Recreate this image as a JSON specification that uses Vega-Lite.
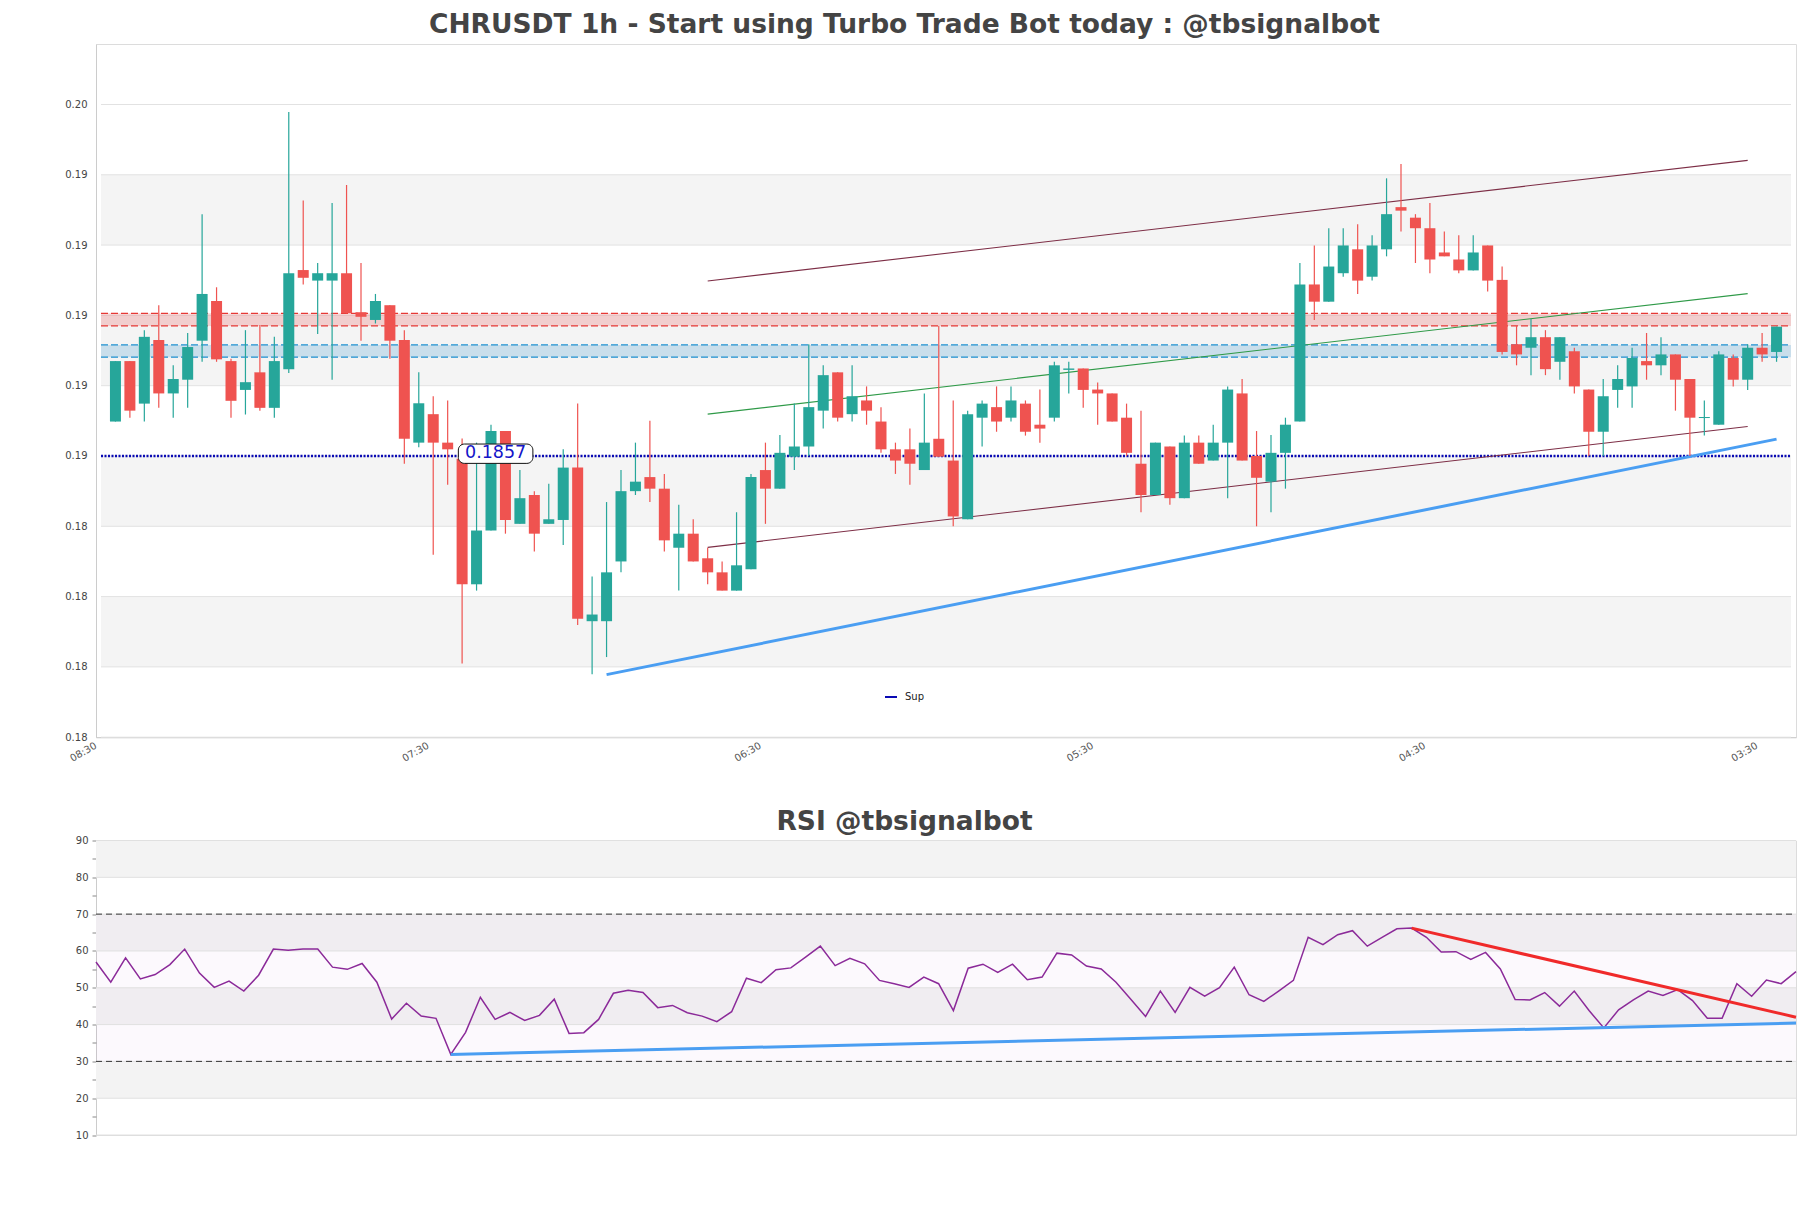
{
"$schema": "https://vega.github.io/schema/vega-lite/v6.json",
"padding": {"left": 64, "top": 11, "right": 14, "bottom": 74},
"background": "white",
"bounds": "flush",
"spacing": 102.5,
"config": {
  "font": "DejaVu Sans",
  "view": {"stroke": "#dcdcdc"},
  "axis": {"labelFont": "DejaVu Sans", "labelFontSize": 10, "labelColor": "#444444", "domainColor": "#cccccc", "tickColor": "#999999", "grid": false, "title": null}
},
"datasets": {
  "candles": [
{"i":0,"o":0.18668,"h":0.18840,"l":0.18668,"c":0.18840},
{"i":1,"o":0.18840,"h":0.18840,"l":0.18679,"c":0.18699},
{"i":2,"o":0.18719,"h":0.18928,"l":0.18668,"c":0.18909},
{"i":3,"o":0.18900,"h":0.18999,"l":0.18707,"c":0.18748},
{"i":4,"o":0.18748,"h":0.18828,"l":0.18679,"c":0.18789},
{"i":5,"o":0.18787,"h":0.18920,"l":0.18707,"c":0.18880},
{"i":6,"o":0.18898,"h":0.19258,"l":0.18838,"c":0.19031},
{"i":7,"o":0.19011,"h":0.19050,"l":0.18838,"c":0.18845},
{"i":8,"o":0.18840,"h":0.18847,"l":0.18679,"c":0.18727},
{"i":9,"o":0.18758,"h":0.18928,"l":0.18688,"c":0.18780},
{"i":10,"o":0.18808,"h":0.18943,"l":0.18699,"c":0.18707},
{"i":11,"o":0.18707,"h":0.18909,"l":0.18679,"c":0.18840},
{"i":12,"o":0.18817,"h":0.19549,"l":0.18806,"c":0.19090},
{"i":13,"o":0.19099,"h":0.19297,"l":0.19058,"c":0.19077},
{"i":14,"o":0.19069,"h":0.19119,"l":0.18917,"c":0.19090},
{"i":15,"o":0.19069,"h":0.19290,"l":0.18787,"c":0.19090},
{"i":16,"o":0.19090,"h":0.19341,"l":0.18976,"c":0.18976},
{"i":17,"o":0.18979,"h":0.19119,"l":0.18898,"c":0.18966},
{"i":18,"o":0.18957,"h":0.19031,"l":0.18947,"c":0.19011},
{"i":19,"o":0.18999,"h":0.18999,"l":0.18847,"c":0.18898},
{"i":20,"o":0.18900,"h":0.18928,"l":0.18548,"c":0.18619},
{"i":21,"o":0.18608,"h":0.18808,"l":0.18595,"c":0.18720},
{"i":22,"o":0.18689,"h":0.18740,"l":0.18289,"c":0.18608},
{"i":23,"o":0.18608,"h":0.18728,"l":0.18488,"c":0.18589},
{"i":24,"o":0.18562,"h":0.18620,"l":0.17980,"c":0.18205},
{"i":25,"o":0.18205,"h":0.18608,"l":0.18187,"c":0.18358},
{"i":26,"o":0.18358,"h":0.18659,"l":0.18358,"c":0.18641},
{"i":27,"o":0.18641,"h":0.18641,"l":0.18349,"c":0.18388},
{"i":28,"o":0.18377,"h":0.18530,"l":0.18377,"c":0.18450},
{"i":29,"o":0.18459,"h":0.18470,"l":0.18298,"c":0.18349},
{"i":30,"o":0.18377,"h":0.18491,"l":0.18377,"c":0.18390},
{"i":31,"o":0.18388,"h":0.18589,"l":0.18317,"c":0.18537},
{"i":32,"o":0.18537,"h":0.18719,"l":0.18089,"c":0.18107},
{"i":33,"o":0.18100,"h":0.18227,"l":0.17949,"c":0.18119},
{"i":34,"o":0.18100,"h":0.18439,"l":0.17998,"c":0.18239},
{"i":35,"o":0.18270,"h":0.18530,"l":0.18239,"c":0.18470},
{"i":36,"o":0.18470,"h":0.18608,"l":0.18459,"c":0.18497},
{"i":37,"o":0.18510,"h":0.18670,"l":0.18439,"c":0.18477},
{"i":38,"o":0.18477,"h":0.18519,"l":0.18298,"c":0.18330},
{"i":39,"o":0.18309,"h":0.18431,"l":0.18187,"c":0.18349},
{"i":40,"o":0.18349,"h":0.18390,"l":0.18270,"c":0.18270},
{"i":41,"o":0.18279,"h":0.18309,"l":0.18205,"c":0.18239},
{"i":42,"o":0.18239,"h":0.18270,"l":0.18187,"c":0.18187},
{"i":43,"o":0.18187,"h":0.18410,"l":0.18187,"c":0.18259},
{"i":44,"o":0.18248,"h":0.18519,"l":0.18248,"c":0.18510},
{"i":45,"o":0.18530,"h":0.18608,"l":0.18377,"c":0.18477},
{"i":46,"o":0.18477,"h":0.18630,"l":0.18477,"c":0.18579},
{"i":47,"o":0.18568,"h":0.18719,"l":0.18530,"c":0.18597},
{"i":48,"o":0.18597,"h":0.18888,"l":0.18570,"c":0.18709},
{"i":49,"o":0.18699,"h":0.18828,"l":0.18648,"c":0.18800},
{"i":50,"o":0.18808,"h":0.18808,"l":0.18668,"c":0.18679},
{"i":51,"o":0.18689,"h":0.18828,"l":0.18668,"c":0.18740},
{"i":52,"o":0.18728,"h":0.18768,"l":0.18659,"c":0.18699},
{"i":53,"o":0.18668,"h":0.18709,"l":0.18579,"c":0.18589},
{"i":54,"o":0.18589,"h":0.18608,"l":0.18519,"c":0.18557},
{"i":55,"o":0.18589,"h":0.18648,"l":0.18488,"c":0.18548},
{"i":56,"o":0.18530,"h":0.18748,"l":0.18530,"c":0.18608},
{"i":57,"o":0.18619,"h":0.18940,"l":0.18568,"c":0.18568},
{"i":58,"o":0.18557,"h":0.18728,"l":0.18370,"c":0.18398},
{"i":59,"o":0.18390,"h":0.18699,"l":0.18390,"c":0.18689},
{"i":60,"o":0.18679,"h":0.18728,"l":0.18597,"c":0.18719},
{"i":61,"o":0.18709,"h":0.18768,"l":0.18639,"c":0.18668},
{"i":62,"o":0.18679,"h":0.18768,"l":0.18668,"c":0.18728},
{"i":63,"o":0.18719,"h":0.18728,"l":0.18628,"c":0.18639},
{"i":64,"o":0.18659,"h":0.18759,"l":0.18608,"c":0.18648},
{"i":65,"o":0.18679,"h":0.18838,"l":0.18668,"c":0.18828},
{"i":66,"o":0.18815,"h":0.18838,"l":0.18748,"c":0.18819},
{"i":67,"o":0.18819,"h":0.18819,"l":0.18707,"c":0.18758},
{"i":68,"o":0.18759,"h":0.18779,"l":0.18659,"c":0.18748},
{"i":69,"o":0.18748,"h":0.18748,"l":0.18668,"c":0.18668},
{"i":70,"o":0.18679,"h":0.18719,"l":0.18570,"c":0.18579},
{"i":71,"o":0.18548,"h":0.18699,"l":0.18410,"c":0.18459},
{"i":72,"o":0.18459,"h":0.18608,"l":0.18459,"c":0.18608},
{"i":73,"o":0.18597,"h":0.18597,"l":0.18431,"c":0.18450},
{"i":74,"o":0.18450,"h":0.18628,"l":0.18450,"c":0.18608},
{"i":75,"o":0.18608,"h":0.18628,"l":0.18548,"c":0.18548},
{"i":76,"o":0.18557,"h":0.18659,"l":0.18557,"c":0.18608},
{"i":77,"o":0.18608,"h":0.18768,"l":0.18450,"c":0.18759},
{"i":78,"o":0.18748,"h":0.18789,"l":0.18557,"c":0.18557},
{"i":79,"o":0.18570,"h":0.18641,"l":0.18370,"c":0.18508},
{"i":80,"o":0.18497,"h":0.18630,"l":0.18410,"c":0.18579},
{"i":81,"o":0.18579,"h":0.18679,"l":0.18477,"c":0.18659},
{"i":82,"o":0.18668,"h":0.19119,"l":0.18668,"c":0.19058},
{"i":83,"o":0.19058,"h":0.19169,"l":0.18957,"c":0.19009},
{"i":84,"o":0.19009,"h":0.19218,"l":0.19009,"c":0.19109},
{"i":85,"o":0.19090,"h":0.19218,"l":0.19080,"c":0.19169},
{"i":86,"o":0.19158,"h":0.19229,"l":0.19031,"c":0.19069},
{"i":87,"o":0.19080,"h":0.19198,"l":0.19069,"c":0.19169},
{"i":88,"o":0.19158,"h":0.19360,"l":0.19138,"c":0.19258},
{"i":89,"o":0.19278,"h":0.19401,"l":0.19209,"c":0.19268},
{"i":90,"o":0.19248,"h":0.19258,"l":0.19119,"c":0.19218},
{"i":91,"o":0.19218,"h":0.19290,"l":0.19090,"c":0.19129},
{"i":92,"o":0.19149,"h":0.19209,"l":0.19138,"c":0.19138},
{"i":93,"o":0.19129,"h":0.19198,"l":0.19090,"c":0.19098},
{"i":94,"o":0.19098,"h":0.19198,"l":0.19098,"c":0.19149},
{"i":95,"o":0.19169,"h":0.19169,"l":0.19038,"c":0.19069},
{"i":96,"o":0.19071,"h":0.19109,"l":0.18859,"c":0.18866},
{"i":97,"o":0.18888,"h":0.18940,"l":0.18828,"c":0.18859},
{"i":98,"o":0.18878,"h":0.18960,"l":0.18800,"c":0.18908},
{"i":99,"o":0.18908,"h":0.18928,"l":0.18800,"c":0.18817},
{"i":100,"o":0.18838,"h":0.18908,"l":0.18787,"c":0.18908},
{"i":101,"o":0.18868,"h":0.18878,"l":0.18748,"c":0.18768},
{"i":102,"o":0.18759,"h":0.18759,"l":0.18570,"c":0.18639},
{"i":103,"o":0.18639,"h":0.18789,"l":0.18570,"c":0.18740},
{"i":104,"o":0.18758,"h":0.18828,"l":0.18707,"c":0.18789},
{"i":105,"o":0.18768,"h":0.18878,"l":0.18707,"c":0.18849},
{"i":106,"o":0.18840,"h":0.18920,"l":0.18787,"c":0.18828},
{"i":107,"o":0.18828,"h":0.18908,"l":0.18800,"c":0.18859},
{"i":108,"o":0.18859,"h":0.18859,"l":0.18699,"c":0.18787},
{"i":109,"o":0.18789,"h":0.18789,"l":0.18570,"c":0.18679},
{"i":110,"o":0.18678,"h":0.18728,"l":0.18628,"c":0.18681},
{"i":111,"o":0.18659,"h":0.18868,"l":0.18659,"c":0.18859},
{"i":112,"o":0.18849,"h":0.18859,"l":0.18768,"c":0.18787},
{"i":113,"o":0.18787,"h":0.18888,"l":0.18758,"c":0.18878},
{"i":114,"o":0.18878,"h":0.18920,"l":0.18838,"c":0.18859},
{"i":115,"o":0.18866,"h":0.18938,"l":0.18838,"c":0.18938}
  ],
  "rsi": [
{"i":0,"v":57.0},{"i":1,"v":51.5},{"i":2,"v":58.1},{"i":3,"v":52.4},{"i":4,"v":53.6},{"i":5,"v":56.3},{"i":6,"v":60.5},{"i":7,"v":54.0},{"i":8,"v":50.1},{"i":9,"v":51.8},
{"i":10,"v":49.1},{"i":11,"v":53.4},{"i":12,"v":60.5},{"i":13,"v":60.2},{"i":14,"v":60.5},{"i":15,"v":60.5},{"i":16,"v":55.6},{"i":17,"v":55.0},{"i":18,"v":56.6},{"i":19,"v":51.5},
{"i":20,"v":41.5},{"i":21,"v":45.8},{"i":22,"v":42.3},{"i":23,"v":41.7},{"i":24,"v":31.9},{"i":25,"v":37.9},{"i":26,"v":47.4},{"i":27,"v":41.4},{"i":28,"v":43.3},{"i":29,"v":41.1},
{"i":30,"v":42.5},{"i":31,"v":46.9},{"i":32,"v":37.6},{"i":33,"v":37.8},{"i":34,"v":41.4},{"i":35,"v":48.5},{"i":36,"v":49.3},{"i":37,"v":48.7},{"i":38,"v":44.6},{"i":39,"v":45.2},
{"i":40,"v":43.2},{"i":41,"v":42.3},{"i":42,"v":40.8},{"i":43,"v":43.5},{"i":44,"v":52.6},{"i":45,"v":51.4},{"i":46,"v":54.9},{"i":47,"v":55.4},{"i":48,"v":58.3},{"i":49,"v":61.3},
{"i":50,"v":56.0},{"i":51,"v":58.0},{"i":52,"v":56.5},{"i":53,"v":52.0},{"i":54,"v":51.1},{"i":55,"v":50.1},{"i":56,"v":52.9},{"i":57,"v":51.1},{"i":58,"v":43.8},{"i":59,"v":55.3},
{"i":60,"v":56.4},{"i":61,"v":54.2},{"i":62,"v":56.4},{"i":63,"v":52.2},{"i":64,"v":52.9},{"i":65,"v":59.4},{"i":66,"v":58.9},{"i":67,"v":55.9},{"i":68,"v":55.1},{"i":69,"v":51.5},
{"i":70,"v":46.9},{"i":71,"v":42.2},{"i":72,"v":49.1},{"i":73,"v":43.3},{"i":74,"v":50.1},{"i":75,"v":47.7},{"i":76,"v":50.0},{"i":77,"v":55.6},{"i":78,"v":48.1},{"i":79,"v":46.3},
{"i":80,"v":49.1},{"i":81,"v":52.0},{"i":82,"v":63.7},{"i":83,"v":61.7},{"i":84,"v":64.4},{"i":85,"v":65.5},{"i":86,"v":61.3},{"i":87,"v":63.7},{"i":88,"v":66.0},{"i":89,"v":66.2},
{"i":90,"v":63.7},{"i":91,"v":59.7},{"i":92,"v":59.8},{"i":93,"v":57.7},{"i":94,"v":59.6},{"i":95,"v":55.1},{"i":96,"v":46.8},{"i":97,"v":46.7},{"i":98,"v":48.7},{"i":99,"v":45.0},
{"i":100,"v":49.1},{"i":101,"v":43.8},{"i":102,"v":39.1},{"i":103,"v":44.0},{"i":104,"v":46.7},{"i":105,"v":49.1},{"i":106,"v":47.9},{"i":107,"v":49.5},{"i":108,"v":46.5},{"i":109,"v":41.7},
{"i":110,"v":41.7},{"i":111,"v":51.1},{"i":112,"v":47.7},{"i":113,"v":52.1},{"i":114,"v":51.1},{"i":115,"v":54.4}
  ],
  "priceBands": [{"lo":0.1797,"hi":0.1817},{"lo":0.1837,"hi":0.1857},{"lo":0.1877,"hi":0.1897},{"lo":0.1917,"hi":0.1937}],
  "priceTicks": [{"v":0.1777},{"v":0.1797},{"v":0.1817},{"v":0.1837},{"v":0.1857},{"v":0.1877},{"v":0.1897},{"v":0.1917},{"v":0.1937},{"v":0.1957}],
  "zones": [{"zone":"res","lo":0.18940,"hi":0.18976},{"zone":"sup","lo":0.18851,"hi":0.18886}],
  "zoneEdges": [{"zone":"res","v":0.18940},{"zone":"res","v":0.18976},{"zone":"sup","v":0.18851},{"zone":"sup","v":0.18886}],
  "supLevel": [{"name":"Sup","v":0.1857}],
  "channel": [{"line":"upper","i":41,"p":0.19068},{"line":"upper","i":113,"p":0.19411},{"line":"lower","i":41,"p":0.18310},{"line":"lower","i":113,"p":0.18654}],
  "mid": [{"i":41,"p":0.18689},{"i":113,"p":0.19032}],
  "support": [{"i":34,"p":0.17948},{"i":115,"p":0.18618}],
  "rsiBands": [{"lo":20,"hi":30},{"lo":40,"hi":50},{"lo":60,"hi":70},{"lo":80,"hi":90}],
  "rsiZone": [{"lo":30,"hi":70}],
  "rsiGrid": [{"v":10},{"v":20},{"v":30},{"v":40},{"v":50},{"v":60},{"v":70},{"v":80},{"v":90}],
  "rsiLevels": [{"v":30},{"v":70}],
  "rsiSupport": [{"i":24,"v":31.9},{"i":115,"v":40.4}],
  "rsiResist": [{"i":89,"v":66.2},{"i":115,"v":42.0}]
},
"vconcat": [
{
  "width": 1700, "height": 693.2,
  "title": {"text": "CHRUSDT 1h - Start using Turbo Trade Bot today : @tbsignalbot", "font": "DejaVu Sans", "fontSize": 26.5, "fontWeight": "bold", "color": "#444444", "anchor": "middle", "dx": -41.5, "offset": -15.9, "baseline": "alphabetic"},
  "layer": [
    {"data": {"name": "priceBands"}, "mark": {"type": "rect", "color": "#f4f4f4"},
     "encoding": {
       "x": {"datum": -1, "type": "quantitative", "scale": {"domain": [-1, 116], "nice": false, "zero": false},
             "axis": {"values": [-1, 22, 45, 68, 91, 114], "labelExpr": "datum.value == -1 ? '08:30' : datum.value == 22 ? '07:30' : datum.value == 45 ? '06:30' : datum.value == 68 ? '05:30' : datum.value == 91 ? '04:30' : '03:30'", "labelAngle": -30, "labelAlign": "right", "labelBaseline": "top", "labelOffset": -8, "ticks": false, "labelPadding": 3, "labelFlush": false, "labelOverlap": false, "labelBound": false, "labelColor": "#555555"}},
       "x2": {"datum": 116},
       "y": {"field": "lo", "type": "quantitative", "scale": {"domain": [0.1777, 0.197421], "nice": false, "zero": false},
             "axis": {"values": [0.1777, 0.1797, 0.1817, 0.1837, 0.1857, 0.1877, 0.1897, 0.1917, 0.1937, 0.1957], "format": ".2f", "ticks": false, "labelPadding": 9, "labelOverlap": false}},
       "y2": {"field": "hi"}
     }},
    {"data": {"name": "priceTicks"}, "mark": {"type": "rule", "color": "#e2e2e2", "strokeWidth": 1},
     "encoding": {
       "x": {"datum": -1, "type": "quantitative", "scale": {"domain": [-1, 116], "nice": false, "zero": false}},
       "x2": {"datum": 116},
       "y": {"field": "v", "type": "quantitative", "scale": {"domain": [0.1777, 0.197421], "nice": false, "zero": false}}
     }},
    {"data": {"name": "zones"}, "mark": {"type": "rect", "fillOpacity": 0.2},
     "encoding": {
       "x": {"datum": -1, "type": "quantitative", "scale": {"domain": [-1, 116], "nice": false, "zero": false}},
       "x2": {"datum": 116},
       "y": {"field": "lo", "type": "quantitative", "scale": {"domain": [0.1777, 0.197421], "nice": false, "zero": false}},
       "y2": {"field": "hi"},
       "fill": {"condition": {"test": "datum.zone == 'res'", "value": "#e53935"}, "value": "#1e88c8"}
     }},
    {"data": {"name": "zoneEdges"}, "mark": {"type": "rule", "strokeWidth": 1.3, "strokeDash": [7, 3]},
     "encoding": {
       "x": {"datum": -1, "type": "quantitative", "scale": {"domain": [-1, 116], "nice": false, "zero": false}},
       "x2": {"datum": 116},
       "y": {"field": "v", "type": "quantitative", "scale": {"domain": [0.1777, 0.197421], "nice": false, "zero": false}},
       "color": {"condition": {"test": "datum.zone == 'res'", "value": "#e53935"}, "value": "#1e90d0"}
     }},
    {"data": {"name": "supLevel"}, "mark": {"type": "rule", "strokeWidth": 2.5, "strokeDash": [2, 1.5]},
     "encoding": {
       "x": {"datum": -1, "type": "quantitative", "scale": {"domain": [-1, 116], "nice": false, "zero": false}},
       "x2": {"datum": 116},
       "y": {"field": "v", "type": "quantitative", "scale": {"domain": [0.1777, 0.197421], "nice": false, "zero": false}},
       "color": {"field": "name", "type": "nominal", "scale": {"domain": ["Sup"], "range": ["#0a0ab4"]},
                 "legend": {"orient": "none", "legendX": 788, "legendY": 646, "title": null, "symbolType": "stroke", "symbolStrokeWidth": 2, "symbolSize": 144, "symbolDash": [1, 0], "labelFontSize": 10, "labelFont": "DejaVu Sans", "labelColor": "#222222", "labelOffset": 7, "padding": 0}}
     }},
    {"data": {"name": "channel"}, "mark": {"type": "line", "color": "#7d2e46", "strokeWidth": 1.1},
     "encoding": {
       "x": {"field": "i", "type": "quantitative", "scale": {"domain": [-1, 116], "nice": false, "zero": false}},
       "y": {"field": "p", "type": "quantitative", "scale": {"domain": [0.1777, 0.197421], "nice": false, "zero": false}},
       "detail": {"field": "line"}
     }},
    {"data": {"name": "mid"}, "mark": {"type": "line", "color": "#2f9a48", "strokeWidth": 1.1},
     "encoding": {
       "x": {"field": "i", "type": "quantitative", "scale": {"domain": [-1, 116], "nice": false, "zero": false}},
       "y": {"field": "p", "type": "quantitative", "scale": {"domain": [0.1777, 0.197421], "nice": false, "zero": false}}
     }},
    {"data": {"name": "support"}, "mark": {"type": "line", "color": "#4a9ef2", "strokeWidth": 3},
     "encoding": {
       "x": {"field": "i", "type": "quantitative", "scale": {"domain": [-1, 116], "nice": false, "zero": false}},
       "y": {"field": "p", "type": "quantitative", "scale": {"domain": [0.1777, 0.197421], "nice": false, "zero": false}}
     }},
    {"data": {"name": "candles"}, "mark": {"type": "rule", "strokeWidth": 1.2},
     "encoding": {
       "x": {"field": "i", "type": "quantitative", "scale": {"domain": [-1, 116], "nice": false, "zero": false}},
       "y": {"field": "l", "type": "quantitative", "scale": {"domain": [0.1777, 0.197421], "nice": false, "zero": false}},
       "y2": {"field": "h"},
       "color": {"condition": {"test": "datum.c >= datum.o", "value": "#26a69a"}, "value": "#ef5350"}
     }},
    {"data": {"name": "candles"}, "mark": {"type": "bar", "width": 11},
     "encoding": {
       "x": {"field": "i", "type": "quantitative", "scale": {"domain": [-1, 116], "nice": false, "zero": false}},
       "y": {"field": "o", "type": "quantitative", "scale": {"domain": [0.1777, 0.197421], "nice": false, "zero": false}},
       "y2": {"field": "c"},
       "color": {"condition": {"test": "datum.c >= datum.o", "value": "#26a69a"}, "value": "#ef5350"}
     }},
    {"data": {"values": [{"t": "0.1857"}]}, "mark": {"type": "rect", "fill": "white", "stroke": "#111111", "strokeWidth": 1, "cornerRadius": 6},
     "encoding": {
       "x": {"datum": 23.74, "type": "quantitative", "scale": {"domain": [-1, 116], "nice": false, "zero": false}},
       "x2": {"datum": 28.9},
       "y": {"datum": 0.18549, "type": "quantitative", "scale": {"domain": [0.1777, 0.197421], "nice": false, "zero": false}},
       "y2": {"datum": 0.18604}
     }},
    {"data": {"values": [{"t": "0.1857"}]}, "mark": {"type": "text", "font": "DejaVu Sans", "fontSize": 17.5, "color": "#1414c8", "align": "center", "baseline": "middle"},
     "encoding": {
       "x": {"datum": 26.32, "type": "quantitative", "scale": {"domain": [-1, 116], "nice": false, "zero": false}},
       "y": {"datum": 0.18578, "type": "quantitative", "scale": {"domain": [0.1777, 0.197421], "nice": false, "zero": false}},
       "text": {"field": "t"}
     }}
  ]
},
{
  "width": 1700, "height": 294.5,
  "title": {"text": "RSI @tbsignalbot", "font": "DejaVu Sans", "fontSize": 26.5, "fontWeight": "bold", "color": "#444444", "anchor": "middle", "dx": -41.5, "offset": -20.9, "baseline": "alphabetic"},
  "resolve": {"axis": {"y": "independent"}},
  "layer": [
    {"data": {"name": "rsiBands"}, "mark": {"type": "rect", "color": "#f3f3f3"},
     "encoding": {
       "x": {"datum": 0, "type": "quantitative", "scale": {"domain": [0, 115], "nice": false, "zero": false}, "axis": null},
       "x2": {"datum": 115},
       "y": {"field": "lo", "type": "quantitative", "scale": {"domain": [10, 90], "nice": false, "zero": false},
             "axis": {"orient": "left", "values": [10, 20, 30, 40, 50, 60, 70, 80, 90], "ticks": true, "tickSize": 4, "tickColor": "#888888", "labelPadding": 4, "labelOverlap": false}},
       "y2": {"field": "hi"}
     }},
    {"data": {"name": "rsiZone"}, "mark": {"type": "rect", "color": "#9c3fb0", "fillOpacity": 0.03},
     "encoding": {
       "x": {"datum": 0, "type": "quantitative", "scale": {"domain": [0, 115], "nice": false, "zero": false}, "axis": null},
       "x2": {"datum": 115},
       "y": {"field": "lo", "type": "quantitative", "scale": {"domain": [10, 90], "nice": false, "zero": false},
             "axis": {"orient": "left", "values": [15, 25, 35, 45, 55, 65, 75, 85], "labels": false, "ticks": true, "tickSize": 4, "tickColor": "#888888", "domain": false}},
       "y2": {"field": "hi"}
     }},
    {"data": {"name": "rsiGrid"}, "mark": {"type": "rule", "color": "#e0e0e0", "strokeWidth": 1},
     "encoding": {
       "x": {"datum": 0, "type": "quantitative", "scale": {"domain": [0, 115], "nice": false, "zero": false}, "axis": null},
       "x2": {"datum": 115},
       "y": {"field": "v", "type": "quantitative", "scale": {"domain": [10, 90], "nice": false, "zero": false}, "axis": null}
     }},
    {"data": {"name": "rsiLevels"}, "mark": {"type": "rule", "color": "#333333", "strokeWidth": 1, "strokeDash": [6, 4]},
     "encoding": {
       "x": {"datum": 0, "type": "quantitative", "scale": {"domain": [0, 115], "nice": false, "zero": false}, "axis": null},
       "x2": {"datum": 115},
       "y": {"field": "v", "type": "quantitative", "scale": {"domain": [10, 90], "nice": false, "zero": false}, "axis": null}
     }},
    {"data": {"name": "rsi"}, "mark": {"type": "line", "color": "#8b2a99", "strokeWidth": 1.5},
     "encoding": {
       "x": {"field": "i", "type": "quantitative", "scale": {"domain": [0, 115], "nice": false, "zero": false}, "axis": null},
       "y": {"field": "v", "type": "quantitative", "scale": {"domain": [10, 90], "nice": false, "zero": false}, "axis": null}
     }},
    {"data": {"name": "rsiSupport"}, "mark": {"type": "line", "color": "#4a9ef2", "strokeWidth": 3},
     "encoding": {
       "x": {"field": "i", "type": "quantitative", "scale": {"domain": [0, 115], "nice": false, "zero": false}, "axis": null},
       "y": {"field": "v", "type": "quantitative", "scale": {"domain": [10, 90], "nice": false, "zero": false}, "axis": null}
     }},
    {"data": {"name": "rsiResist"}, "mark": {"type": "line", "color": "#f02a2a", "strokeWidth": 3},
     "encoding": {
       "x": {"field": "i", "type": "quantitative", "scale": {"domain": [0, 115], "nice": false, "zero": false}, "axis": null},
       "y": {"field": "v", "type": "quantitative", "scale": {"domain": [10, 90], "nice": false, "zero": false}, "axis": null}
     }}
  ]
}
]
}
